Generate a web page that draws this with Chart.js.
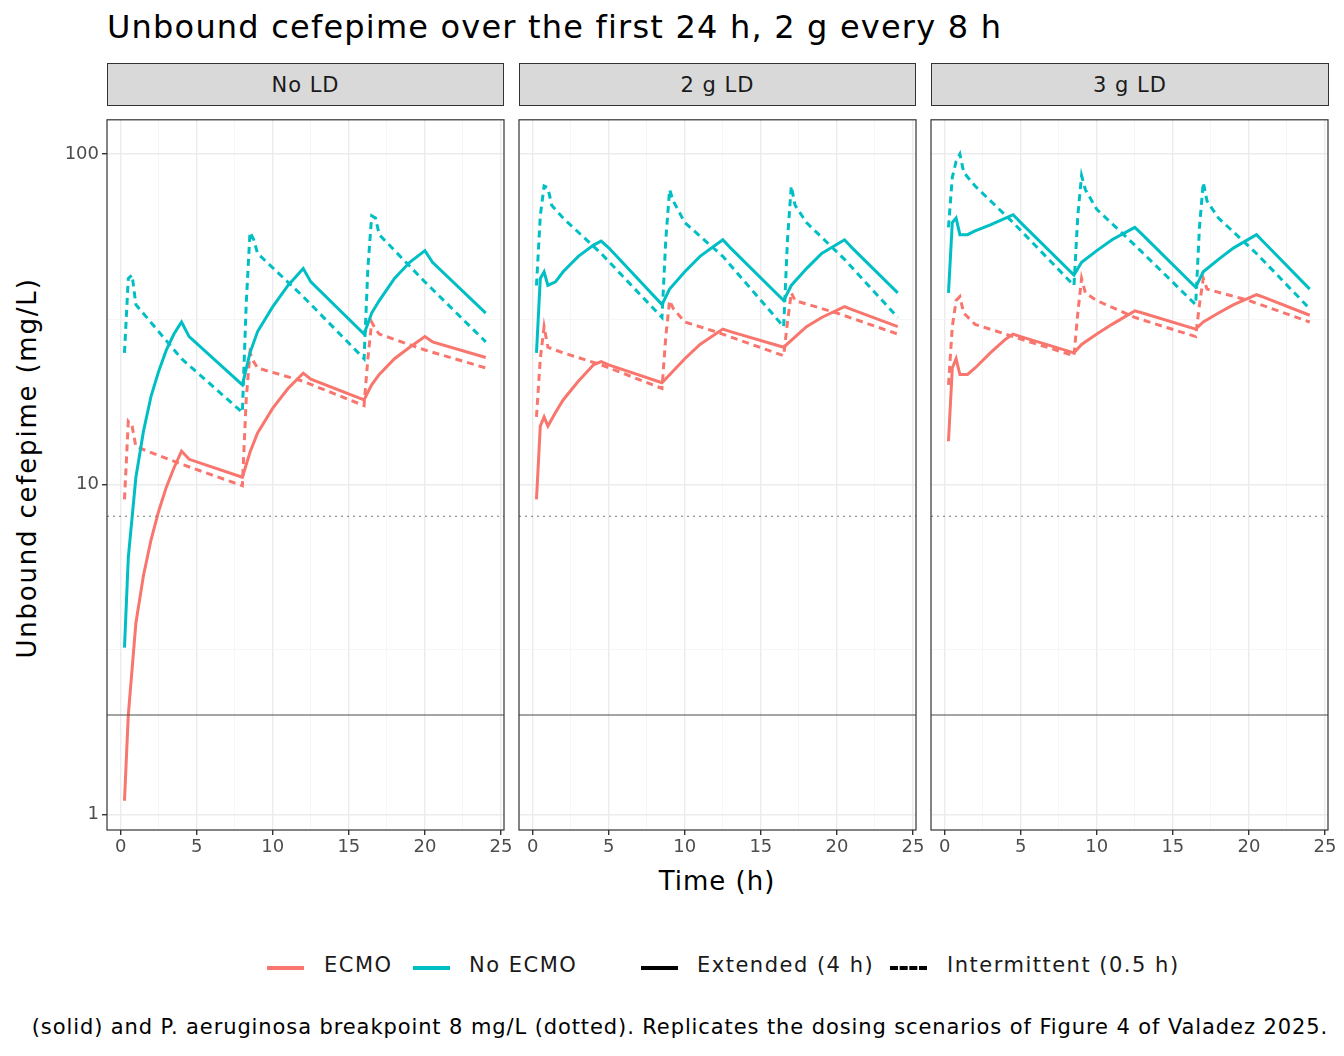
<!DOCTYPE html>
<html><head><meta charset="utf-8">
<script src="https://cdn.jsdelivr.net/npm/chart.js@4.4.0/dist/chart.umd.min.js"></script>
<style>
body{margin:0;width:1344px;height:1056px;background:#fff;font-family:"DejaVu Sans",sans-serif;position:relative;overflow:hidden}
.abs{position:absolute}
.strip{position:absolute;top:63px;height:43px;background:#D9D9D9;border:1px solid #333;box-sizing:border-box;font-size:21px;letter-spacing:1px;color:#1A1A1A;display:flex;align-items:center;justify-content:center}
.lg{position:absolute;top:955px;font-size:21px;letter-spacing:1.5px;color:#1A1A1A;line-height:1}
.ln{position:absolute;top:966px;width:37px;height:0}
</style></head><body>
<div class="abs" style="left:107px;top:8px;font-size:32px;letter-spacing:1.2px;color:#000;white-space:nowrap">Unbound cefepime over the first 24 h, 2 g every 8 h</div>
<div class="abs" style="left:0;top:440px;width:0;height:0"><div style="position:absolute;left:27px;top:28px;transform:translate(-50%,-50%) rotate(-90deg);white-space:nowrap;font-size:26px;letter-spacing:1.8px">Unbound cefepime (mg/L)</div></div>
<div class="abs" style="left:517px;top:866px;width:400px;text-align:center;font-size:26px;letter-spacing:1px">Time (h)</div>
<div class="strip" style="left:107px;width:397px">No LD</div>
<div class="strip" style="left:519px;width:397px">2 g LD</div>
<div class="strip" style="left:931px;width:398px">3 g LD</div>
<div class="ln" style="left:267px;border-top:4px solid #F8766D"></div><div class="lg" style="left:324px">ECMO</div>
<div class="ln" style="left:413px;border-top:4px solid #00BFC4"></div><div class="lg" style="left:469px">No ECMO</div>
<div class="ln" style="left:641px;border-top:4px solid #000"></div><div class="lg" style="left:697px">Extended (4 h)</div>
<div class="ln" style="left:890px;border-top:4px dashed #000"></div><div class="lg" style="left:947px">Intermittent (0.5 h)</div>
<div class="abs" style="right:16px;top:1015px;font-size:21px;letter-spacing:0.9px;white-space:nowrap">(solid) and P. aeruginosa breakpoint 8 mg/L (dotted). Replicates the dosing scenarios of Figure 4 of Valadez 2025.</div>
<canvas id="c0" class="abs"></canvas><canvas id="c1" class="abs"></canvas><canvas id="c2" class="abs"></canvas>
<script>
const panels = ["No LD","2 g LD","3 g LD"];
const xTicks = [0,5,10,15,20,25];
const yTicks = [1,10,100];
const micLine = 2, breakpoint = 8;
// [time, conc] pairs per panel
const ecmoExt = [
 [[0.25,1.1],[0.5,2.0],[1,3.8],[1.5,5.3],[2,6.8],[2.5,8.3],[3,9.8],[3.5,11.2],[4,12.6],[4.5,11.9],[8,10.5],[8.5,12.5],[9,14.3],[10,17],[11,19.5],[12,21.7],[12.5,20.8],[16,18],[16.5,20],[17,21.5],[18,24],[19,26],[20,28],[20.5,27],[24,24.2]],
 [[0.25,9],[0.5,15],[0.75,16],[1,15],[1.5,16.5],[2,18],[3,20.5],[4,23],[4.5,23.5],[5,23],[8.5,20.3],[10,24],[11,26.5],[12.5,29.5],[13,29],[16.5,26],[18,30],[19,32],[20.5,34.5],[21,33.8],[24,30]],
 [[0.25,13.5],[0.5,22.5],[0.75,24],[1,21.5],[1.5,21.5],[2,22.5],[3,25],[4,27.5],[4.5,28.5],[5,28],[8.5,25],[9,26.5],[10,28.5],[11,30.5],[12.5,33.5],[13,33],[16.5,29.5],[17,31],[18,33],[19,35],[20.5,37.5],[21,36.8],[24,32.5]]
];
const noEcmoExt = [
 [[0.25,3.2],[0.5,6],[1,10.5],[1.5,14.5],[2,18.5],[2.5,22],[3,25.5],[3.5,28.5],[4,31],[4.5,28],[8,20],[8.5,25],[9,29],[10,34.5],[11,40],[12,45],[12.5,41],[16,28.5],[16.5,33],[17,36],[18,42],[19,47],[20,51],[20.5,47],[24,33]],
 [[0.25,25],[0.5,42],[0.75,44],[1,40],[1.5,41],[2,44],[3,49],[4,53],[4.5,54.5],[5,52],[8.5,35],[9,39],[10,44],[11,49],[12.5,55],[13,52],[16.5,36],[17,40],[18,45],[19,50],[20.5,55],[21,52],[24,38]],
 [[0.25,38],[0.5,62],[0.75,64],[1,57],[1.5,57],[2,58.5],[3,61],[4,64],[4.5,65.5],[5,62],[8.5,43],[9,47],[10,51],[11,55],[12.5,60],[13,57],[16.5,39.5],[17,44],[18,48],[19,52],[20.5,57],[21,54],[24,39]]
];
const ecmoInt = [
 [[0.25,9],[0.5,15.5],[0.75,15],[1,13],[4,11.5],[8,9.9],[8.25,18],[8.5,25],[8.75,23.5],[9,22.5],[12,20.5],[16,17.3],[16.25,24],[16.5,31],[16.75,29.5],[17,28.5],[20,25.5],[24,22.5]],
 [[0.25,16],[0.5,24],[0.75,30],[1,26],[2,25],[4.5,23],[8.5,19.5],[8.75,28],[9,36],[9.25,34],[10,31],[12,29],[16.5,24.5],[16.75,31],[17,38],[17.25,36],[20,33],[24,28.5]],
 [[0.25,20],[0.5,30],[0.75,36],[1,37],[1.25,33],[2,30.5],[4.5,28],[8.5,24.5],[8.75,33],[9,42],[9.25,38],[10,36],[12.5,32],[16.5,28],[16.75,35],[17,42],[17.25,39],[20,36],[24,31]]
];
const noEcmoInt = [
 [[0.25,25],[0.5,42],[0.75,43],[1,35],[4,24],[8,16.5],[8.25,35],[8.5,58],[8.75,55],[9,50],[12,37],[16,24],[16.25,45],[16.5,65],[16.75,64],[17,57],[20,41],[24,27]],
 [[0.25,40],[0.5,65],[0.75,80],[1,79],[1.25,70],[2,64],[4.5,50],[8.5,32],[8.75,55],[9,78],[9.25,72],[10,62],[12.5,49],[16.5,30],[16.75,55],[17,80],[17.25,70],[18,62],[20.5,48],[24,32]],
 [[0.25,60],[0.5,85],[0.75,95],[1,100],[1.25,88],[2,80],[4.5,62],[8.5,40],[8.75,65],[9,86],[9.25,78],[10,68],[12.5,53],[16.5,35],[16.75,60],[17,82],[17.25,72],[18,64],[20.5,50],[24,34]]
];
const RED="#F8766D", TEAL="#00BFC4";
const panelLeft=[107,519,931], panelW=397, axW=60, padR=16, plotTop=106, plotH=724, axH=40;
const xGrid=[0,2.5,5,7.5,10,12.5,15,17.5,20,22.5,25];
const yGrid=[1,Math.sqrt(10),10,Math.sqrt(1000),100];
const pts=a=>a.map(p=>({x:p[0],y:p[1]}));
const deco={id:'deco',afterDatasetsDraw(ch){const {ctx,chartArea:a,scales:{y}}=ch;ctx.save();
 ctx.beginPath();ctx.rect(a.left,a.top,a.right-a.left,a.bottom-a.top);ctx.clip();
 ctx.strokeStyle='#4D4D4D';ctx.lineWidth=1.1;let yy=y.getPixelForValue(micLine);ctx.beginPath();ctx.moveTo(a.left,yy);ctx.lineTo(a.right,yy);ctx.stroke();
 ctx.strokeStyle='#777';ctx.setLineDash([2,4]);yy=y.getPixelForValue(breakpoint);ctx.beginPath();ctx.moveTo(a.left,yy);ctx.lineTo(a.right,yy);ctx.stroke();ctx.restore();
 ctx.save();ctx.strokeStyle='#333';ctx.lineWidth=1.2;ctx.strokeRect(a.left,a.top,a.right-a.left,a.bottom-a.top);ctx.restore();}};
panels.forEach((p,i)=>{
 const cv=document.getElementById('c'+i);
 const w=axW+panelW+padR,h=plotH+axH;
 cv.style.left=(panelLeft[i]-axW)+'px';cv.style.top=plotTop+'px';cv.style.width=w+'px';cv.style.height=h+'px';cv.width=w;cv.height=h;
 const ds=(d,c,dash)=>({data:pts(d),borderColor:c,borderWidth:3,borderDash:dash,pointRadius:0,tension:0,fill:false});
 new Chart(cv,{type:'line',data:{datasets:[ds(ecmoExt[i],RED,[]),ds(noEcmoExt[i],TEAL,[]),ds(ecmoInt[i],RED,[7,5]),ds(noEcmoInt[i],TEAL,[7,5])]},
 options:{responsive:false,animation:false,devicePixelRatio:1,layout:{padding:{right:padR,top:0,left:0,bottom:0}},
  plugins:{legend:{display:false},tooltip:{enabled:false}},
  scales:{
   x:{type:'linear',min:-0.9,max:25.2,afterBuildTicks:s=>{s.ticks=xGrid.map(v=>({value:v}))},afterFit:s=>{s.height=axH},
    ticks:{autoSkip:false,maxRotation:0,color:'#4D4D4D',font:{size:18,family:'DejaVu Sans'},padding:2,callback:v=>xTicks.includes(v)?String(v):''},
    grid:{color:c=>xTicks.includes(c.tick.value)?'#EBEBEB':'#F2F2F2',lineWidth:c=>xTicks.includes(c.tick.value)?1.4:0.7,tickLength:5,tickColor:c=>xTicks.includes(c.tick.value)?'#333':'rgba(0,0,0,0)'},border:{display:false}},
   y:{type:'logarithmic',min:0.897,max:127,afterBuildTicks:s=>{s.ticks=yGrid.map(v=>({value:v}))},afterFit:s=>{s.width=axW},
    ticks:{autoSkip:false,color:i===0?'#4D4D4D':'rgba(0,0,0,0)',font:{size:18,family:'DejaVu Sans'},padding:3,callback:v=>yTicks.includes(v)?String(v):''},
    grid:{color:c=>yTicks.includes(c.tick.value)?'#EBEBEB':'#F2F2F2',lineWidth:c=>yTicks.includes(c.tick.value)?1.4:0.7,tickLength:5,tickColor:c=>(i===0&&yTicks.includes(c.tick.value))?'#333':'rgba(0,0,0,0)'},border:{display:false}}
  }},plugins:[deco]});
});
</script></body></html>
